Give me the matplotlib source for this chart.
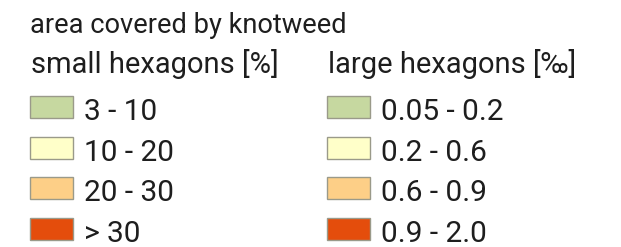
import matplotlib
matplotlib.use("Agg")
import matplotlib.pyplot as plt
from matplotlib.patches import Rectangle

title = "area covered by knotweed"
headings = ["small hexagons [%]", "large hexagons [‰]"]
small_labels = ["3 - 10", "10 - 20", "20 - 30", "> 30"]
large_labels = ["0.05 - 0.2", "0.2 - 0.6", "0.6 - 0.9", "0.9 - 2.0"]
colors = ["#c6d8a0", "#ffffc9", "#fdcf87", "#e44d0c"]

plt.rcParams['font.family'] = ['Roboto', 'DejaVu Sans']

fig = plt.figure(figsize=(6.21, 2.47), dpi=100)
ax = fig.add_axes([0, 0, 1, 1])
ax.set_xlim(0, 621)
ax.set_ylim(247, 0)
ax.axis('off')

txtc = "#1e1e1e"
ax.text(30, 33, title, fontsize=19.6, va='baseline', ha='left', color=txtc)
col_x = [30, 327]
row_y = [107, 148, 188, 229]
for ci, (head, labels) in enumerate(zip(headings, [small_labels, large_labels])):
    x0 = col_x[ci]
    ax.text(x0 + 1, 73, head, fontsize=21, va='baseline', ha='left', color=txtc)
    for y, lab, c in zip(row_y, labels, colors):
        ax.add_patch(Rectangle((x0, y - 11), 43, 22, facecolor=c, edgecolor='#9a9a8a', lw=1))
        ax.text(x0 + 54, y + 13, lab, fontsize=21.5, va='baseline', ha='left', color=txtc)

fig.savefig("out.png", dpi=100)
